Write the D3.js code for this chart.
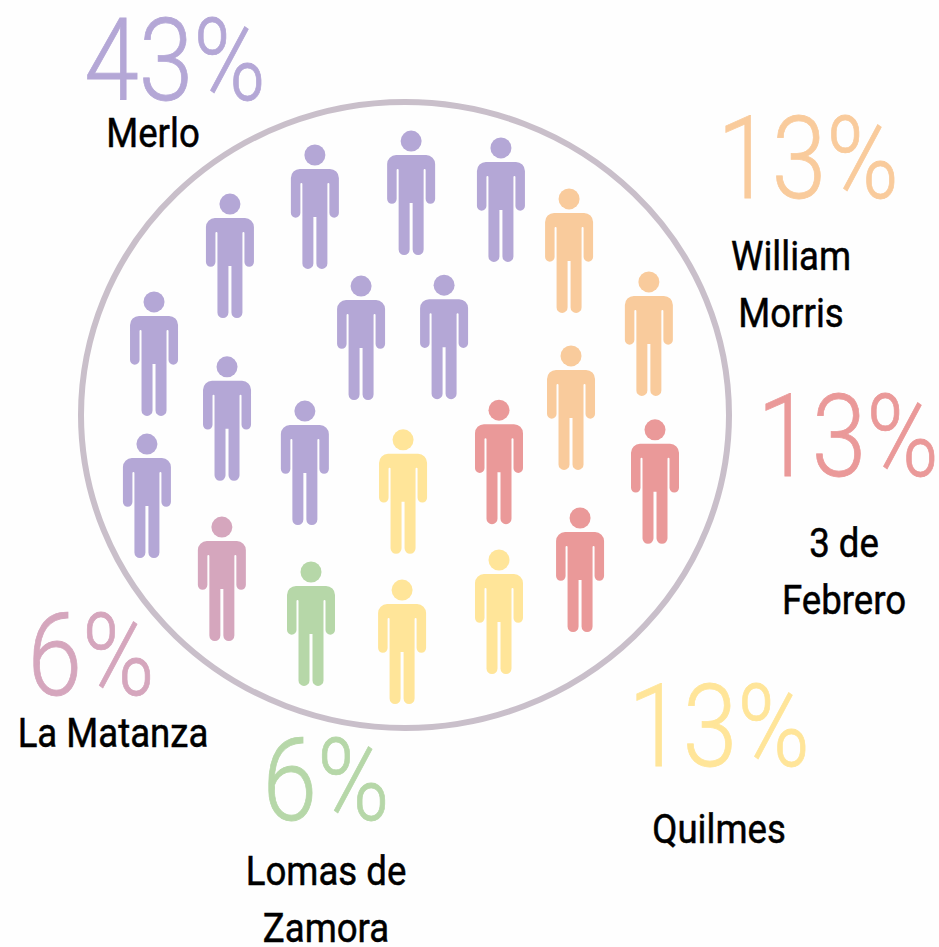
<!DOCTYPE html>
<html>
<head>
<meta charset="utf-8">
<script src="https://cdn.jsdelivr.net/npm/d3@7"></script>
<style>
html, body { margin: 0; padding: 0; background: #fefefe; }
svg { display: block; }
text { font-family: Roboto, sans-serif; text-anchor: middle; }
</style>
</head>
<body>
<div class="container"></div>
<script>
const WIDTH = 939;
const HEIGHT = 947;
const CX = 405;
const CY = 415;
const R = 323;

// groups
var names = [["Merlo"], ["William", "Morris"], ["3 de", "Febrero"], ["Quilmes"], ["Lomas de", "Zamora"], ["La Matanza"]];
var shares = [43, 13, 13, 13, 6, 6];
var colors = ["#b4a7d6", "#f9cb9c", "#ea9999", "#ffe599", "#b6d7a8", "#d5a6bd"];

// one figure each, head position, in % of R
var personGroup = [0, 0, 0, 0, 0, 0, 0, 0, 0, 0, 1, 1, 1, 2, 2, 2, 3, 3, 3, 4, 5];
var personX = [-27.9, 1.9, 29.7, -54.2, -13.6, 12.1, -77.7, -55.1, -31.0, -79.9, 50.8, 75.5, 51.4, 29.1, 77.4, 54.2, -0.6, 29.1, -0.9, -29.1, -56.7];
var personY = [-80.5, -84.8, -82.7, -65.3, -39.9, -40.2, -35.0, -14.9, -1.2, 9.0, -66.9, -41.2, -18.3, -1.5, 4.6, 31.9, 7.7, 44.9, 54.2, 48.6, 34.7];

// label placement per group
var shareX = [175, 808, 848, 719, 326, 91];
var shareY = [100, 198, 476, 766, 820, 695];
var nameX = [153, 791, 844, 719, 326, 113];
var nameY = [147, 270, 557, 843, 885, 747];

var translate = function (x, y) {
    return "translate(" + x + "," + y + ")";
};

var _xScale = d3.scaleLinear().domain([-100, 100]).range([CX - R, CX + R]);
var _yScale = d3.scaleLinear().domain([-100, 100]).range([CY - R, CY + R]);

// figure drawn from the centre of the head
var BODY = "M-24,23 A9,9 0 0 1 -15,14 L15,14 A9,9 0 0 1 24,23 L24,58 A4.75,4.75 0 0 1 14.5,58 L14.5,29 "
    + "A1,1 0 0 0 12.5,29 L12.5,108.5 A5.5,5.5 0 0 1 1.5,108.5 L1.5,62 L-1.5,62 L-1.5,108.5 "
    + "A5.5,5.5 0 0 1 -12.5,108.5 L-12.5,29 A1,1 0 0 0 -14.5,29 L-14.5,58 A4.75,4.75 0 0 1 -24,58 Z";

var svg = d3.select(".container").append("svg")
    .attr("width", WIDTH)
    .attr("height", HEIGHT);

svg.append("ellipse")
    .attr("cx", CX)
    .attr("cy", CY)
    .attr("rx", 324)
    .attr("ry", 313)
    .attr("fill", "none")
    .attr("stroke", "#c9bfca")
    .attr("stroke-width", 6);

var person = svg.selectAll(".person")
    .data(personGroup)
    .enter().append("g")
    .attr("class", "person")
    .attr("fill", function (d) { return colors[d]; })
    .attr("transform", function (d, i) {
        return translate(_xScale(personX[i]), _yScale(personY[i]));
    });

person.append("circle").attr("r", 10.5);
person.append("path").attr("d", BODY);

svg.selectAll(".share")
    .data(shares)
    .enter().append("text")
    .attr("class", "share")
    .attr("transform", function (d, i) {
        return translate(shareX[i], shareY[i]) + " scale(0.855,1)";
    })
    .attr("font-size", 115)
    .attr("font-weight", 300)
    .attr("fill", function (d, i) { return colors[i]; })
    .attr("stroke", function (d, i) { return colors[i]; })
    .attr("stroke-width", 0.8)
    .text(function (d) { return d + "%"; });

names.forEach(function (lines, i) {
    lines.forEach(function (line, j) {
        svg.append("text")
            .attr("class", "name")
            .attr("transform", translate(nameX[i], nameY[i] + j * 56.5) + " scale(0.915,1)")
            .attr("font-size", 40)
            .attr("font-weight", 400)
            .attr("fill", "#000")
            .attr("stroke", "#000")
            .attr("stroke-width", 0.5)
            .text(line);
    });
});
</script>
</body>
</html>
